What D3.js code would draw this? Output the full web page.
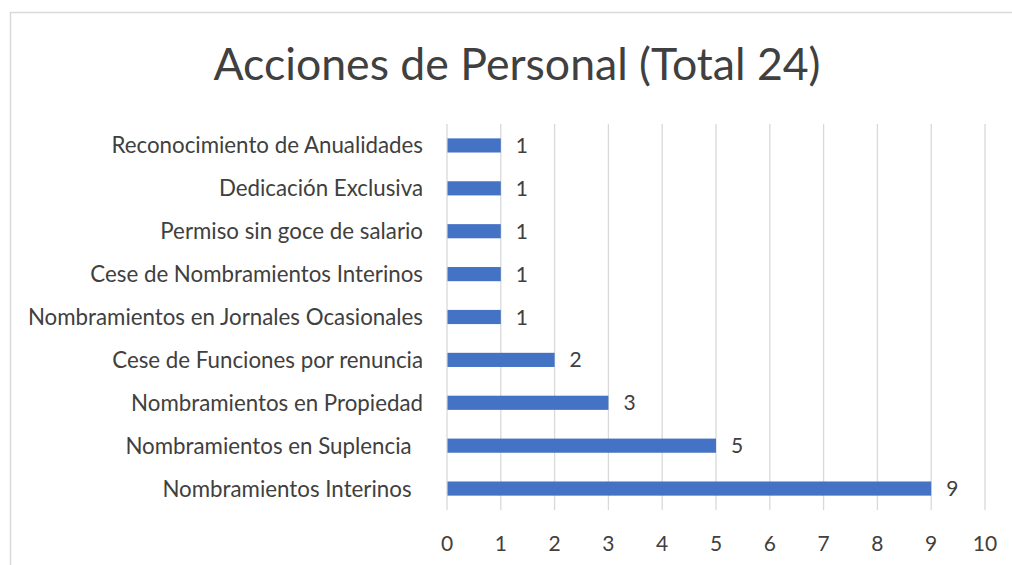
<!DOCTYPE html>
<html lang="es">
<head>
  <meta charset="UTF-8">
  <title>Acciones de Personal</title>
  <script src="https://d3js.org/d3.v7.min.js"></script>
  <style>
    body { margin: 0; background: #fff; }
    svg { display: block; font-family: Lato, "Open Sans", sans-serif; }
    .grid line { stroke: #d9d9d9; stroke-width: 1.3; }
    .cat { fill: #404040; font-size: 22.3px; white-space: pre; }
    .tick-label, .value { fill: #404040; font-size: 21px; }
    .title { fill: #404040; font-size: 44.6px; }
  </style>
</head>
<body>
<svg width="1012" height="565"></svg>
<script>
// === Data ===
const categories = [
  "Reconocimiento de Anualidades",
  "Dedicación Exclusiva",
  "Permiso sin goce de salario",
  "Cese de Nombramientos Interinos",
  "Nombramientos en Jornales Ocasionales",
  "Cese de Funciones por renuncia",
  "Nombramientos en Propiedad",
  "Nombramientos en Suplencia  ",
  "Nombramientos Interinos  "
];
const values = [1, 1, 1, 1, 1, 2, 3, 5, 9];
const ticks = [0, 1, 2, 3, 4, 5, 6, 7, 8, 9, 10];
const title = "Acciones de Personal (Total 24)";

const svg = d3.select("svg");

// chart border (cut off at right and bottom like the picture)
svg.append("rect")
  .attr("x", 10.5).attr("y", 12.5)
  .attr("width", 1010).attr("height", 600)
  .attr("fill", "none").attr("stroke", "#d9d9d9").attr("stroke-width", 1.5);

const x = d3.scaleLinear().domain([0, 10]).range([447, 985]);
const y = d3.scaleBand().domain(categories).range([124, 510]).paddingInner(0.67).paddingOuter(0.335);

// === Title ===
svg.append("text")
  .attr("class", "title")
  .attr("x", 517).attr("y", 80)
  .attr("text-anchor", "middle")
  .text(title);

// === Grid ===
svg.append("g").attr("class", "grid")
  .selectAll("line")
  .data(ticks)
  .join("line")
  .attr("x1", d => x(d)).attr("x2", d => x(d))
  .attr("y1", 124).attr("y2", 510);

// === Bars ===
svg.append("g")
  .selectAll("rect")
  .data(values)
  .join("rect")
  .attr("x", x(0) + 0.5)
  .attr("y", (d, i) => y(categories[i]))
  .attr("width", d => x(d) - x(0) - 0.5)
  .attr("height", y.bandwidth())
  .attr("fill", "#4472c4");

// === Value labels ===
svg.append("g")
  .selectAll("text")
  .data(values)
  .join("text")
  .attr("class", "value")
  .attr("x", d => x(d) + 15)
  .attr("y", (d, i) => y(categories[i]) + y.bandwidth() / 2)
  .attr("dy", "0.36em")
  .text(d => d);

// === Category labels ===
svg.append("g")
  .selectAll("text")
  .data(categories)
  .join("text")
  .attr("class", "cat")
  .attr("x", 423)
  .attr("y", d => y(d) + y.bandwidth() / 2)
  .attr("dy", "0.36em")
  .attr("text-anchor", "end")
  .text(d => d);

// === Tick labels ===
svg.append("g")
  .selectAll("text")
  .data(ticks)
  .join("text")
  .attr("class", "tick-label")
  .attr("x", d => x(d))
  .attr("y", 543)
  .attr("dy", "0.36em")
  .attr("text-anchor", "middle")
  .text(d => d);
</script>
</body>
</html>
